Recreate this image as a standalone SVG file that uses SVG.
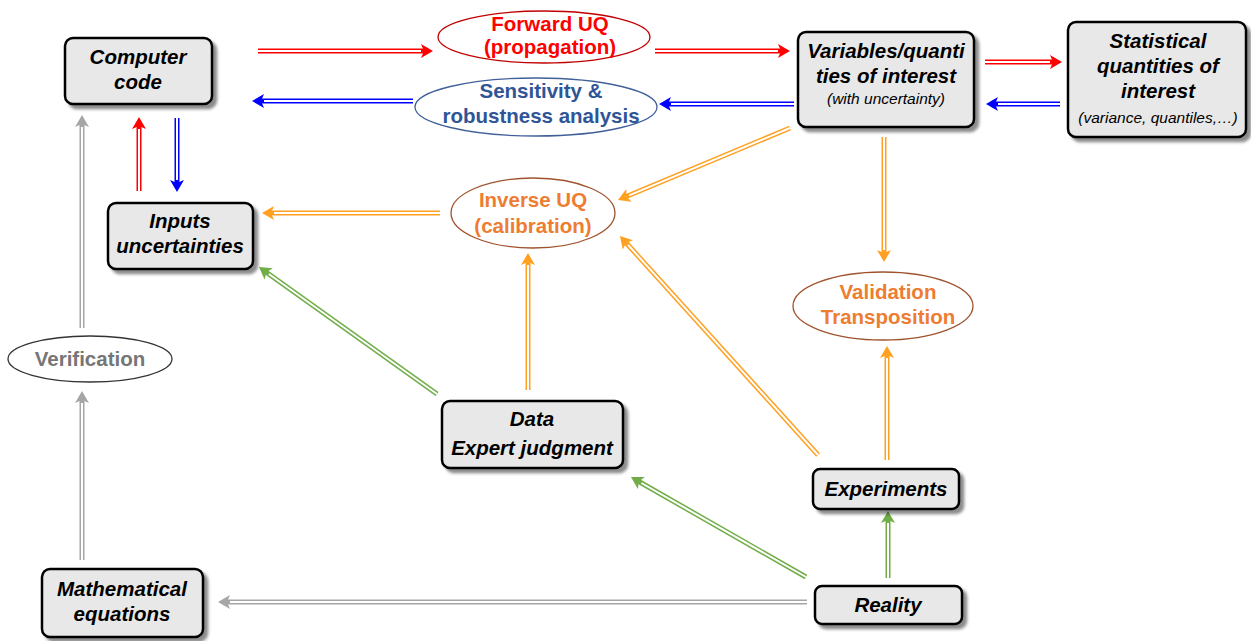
<svg xmlns="http://www.w3.org/2000/svg" width="1251" height="641" viewBox="0 0 1251 641">
<style>
.box{fill:#e8e8e8;stroke:#000;stroke-width:2.5}
.bt{font-family:"Liberation Sans",Arial,sans-serif;font-weight:bold;font-style:italic;font-size:20.5px;fill:#000;text-anchor:middle}
.st{font-family:"Liberation Sans",Arial,sans-serif;font-style:italic;font-size:15.5px;fill:#000;text-anchor:middle}
.et{font-family:"Liberation Sans",Arial,sans-serif;font-weight:bold;font-size:20.5px;text-anchor:middle}
.ell{fill:#fff;stroke-width:1.3}
.o{fill:none;stroke-width:5}
.i{fill:none;stroke:#fff;stroke-width:2}
.red{stroke:#ff0000}.blue{stroke:#0000ff}.org{stroke:#ffa020}.grn{stroke:#70ad47}.gry{stroke:#a6a6a6}
</style>
<defs>
<filter id="sh" x="-10%" y="-10%" width="130%" height="140%">
<feDropShadow dx="4" dy="4" stdDeviation="1.5" flood-color="#000" flood-opacity="0.45"/>
</filter>
<marker id="mr" viewBox="0 0 12 14" markerWidth="12" markerHeight="14" refX="3" refY="7" orient="auto" markerUnits="userSpaceOnUse"><path d="M0,0 L12,7 L0,14 L3,7 Z" fill="#ff0000"/></marker>
<marker id="mb" viewBox="0 0 12 14" markerWidth="12" markerHeight="14" refX="3" refY="7" orient="auto" markerUnits="userSpaceOnUse"><path d="M0,0 L12,7 L0,14 L3,7 Z" fill="#0000ff"/></marker>
<marker id="mo" viewBox="0 0 12 14" markerWidth="12" markerHeight="14" refX="3" refY="7" orient="auto" markerUnits="userSpaceOnUse"><path d="M0,0 L12,7 L0,14 L3,7 Z" fill="#ffa020"/></marker>
<marker id="mg" viewBox="0 0 12 14" markerWidth="12" markerHeight="14" refX="3" refY="7" orient="auto" markerUnits="userSpaceOnUse"><path d="M0,0 L12,7 L0,14 L3,7 Z" fill="#70ad47"/></marker>
<marker id="my" viewBox="0 0 12 14" markerWidth="12" markerHeight="14" refX="3" refY="7" orient="auto" markerUnits="userSpaceOnUse"><path d="M0,0 L12,7 L0,14 L3,7 Z" fill="#a6a6a6"/></marker>
</defs>
<rect width="1251" height="641" fill="#fff"/>

<g id="connectors">
<!-- red -->
<line class="o red" x1="258" y1="51" x2="424" y2="51" marker-end="url(#mr)"/><line class="i" x1="258" y1="51" x2="421" y2="51"/>
<line class="o red" x1="655" y1="51" x2="781" y2="51" marker-end="url(#mr)"/><line class="i" x1="655" y1="51" x2="778" y2="51"/>
<line class="o red" x1="985" y1="62" x2="1053" y2="62" marker-end="url(#mr)"/><line class="i" x1="985" y1="62" x2="1050" y2="62"/>
<line class="o red" x1="139" y1="191" x2="139" y2="126" marker-end="url(#mr)"/><line class="i" x1="139" y1="191" x2="139" y2="129"/>
<!-- blue -->
<line class="o blue" x1="413" y1="101" x2="261" y2="101" marker-end="url(#mb)"/><line class="i" x1="413" y1="101" x2="264" y2="101"/>
<line class="o blue" x1="794" y1="104" x2="668" y2="104" marker-end="url(#mb)"/><line class="i" x1="794" y1="104" x2="671" y2="104"/>
<line class="o blue" x1="1060" y1="104" x2="995" y2="104" marker-end="url(#mb)"/><line class="i" x1="1060" y1="104" x2="998" y2="104"/>
<line class="o blue" x1="177" y1="118" x2="177" y2="183" marker-end="url(#mb)"/><line class="i" x1="177" y1="118" x2="177" y2="180"/>
<!-- orange -->
<line class="o org" x1="440" y1="213" x2="271" y2="213" marker-end="url(#mo)"/><line class="i" x1="440" y1="213" x2="274" y2="213"/>
<line class="o org" x1="790" y1="128" x2="626.3" y2="196.5" marker-end="url(#mo)"/><line class="i" x1="790" y1="128" x2="629.1" y2="195.3"/>
<line class="o org" x1="884" y1="137" x2="884" y2="253" marker-end="url(#mo)"/><line class="i" x1="884" y1="137" x2="884" y2="250"/>
<line class="o org" x1="528" y1="390" x2="528" y2="262" marker-end="url(#mo)"/><line class="i" x1="528" y1="390" x2="528" y2="265"/>
<line class="o org" x1="818" y1="455" x2="626" y2="242.7" marker-end="url(#mo)"/><line class="i" x1="818" y1="455" x2="628" y2="244.9"/>
<line class="o org" x1="887" y1="460" x2="887" y2="355" marker-end="url(#mo)"/><line class="i" x1="887" y1="460" x2="887" y2="358"/>
<!-- green -->
<line class="o grn" x1="437" y1="394" x2="266.3" y2="272.2" marker-end="url(#mg)"/><line class="i" x1="437" y1="394" x2="268.8" y2="274"/>
<line class="o grn" x1="806" y1="577" x2="638.8" y2="481.5" marker-end="url(#mg)"/><line class="i" x1="806" y1="577" x2="641.4" y2="483"/>
<line class="o grn" x1="888" y1="578" x2="888" y2="520" marker-end="url(#mg)"/><line class="i" x1="888" y1="578" x2="888" y2="523"/>
<!-- gray -->
<line class="o gry" x1="807" y1="602" x2="227" y2="602" marker-end="url(#my)"/><line class="i" x1="807" y1="602" x2="230" y2="602"/>
<line class="o gry" x1="82" y1="560" x2="82" y2="400" marker-end="url(#my)"/><line class="i" x1="82" y1="560" x2="82" y2="403"/>
<line class="o gry" x1="82" y1="328" x2="82" y2="124" marker-end="url(#my)"/><line class="i" x1="82" y1="328" x2="82" y2="127"/>
</g>

<g id="computer-code">
<rect class="box" x="65" y="38" width="147" height="66" rx="8" filter="url(#sh)"/>
<text class="bt" x="138" y="64">Computer</text>
<text class="bt" x="138" y="89">code</text>
</g>
<g id="variables">
<rect class="box" x="798" y="32" width="176" height="95" rx="8" filter="url(#sh)"/>
<text class="bt" x="886" y="58">Variables/quanti</text>
<text class="bt" x="886" y="83">ties of interest</text>
<text class="st" x="886" y="104">(with uncertainty)</text>
</g>
<g id="statistical">
<rect class="box" x="1068" y="22" width="178" height="115" rx="8" filter="url(#sh)"/>
<text class="bt" x="1158" y="48">Statistical</text>
<text class="bt" x="1158" y="73">quantities of</text>
<text class="bt" x="1158" y="98">interest</text>
<text class="st" x="1158" y="123">(variance, quantiles,…)</text>
</g>
<g id="inputs">
<rect class="box" x="108" y="203" width="145" height="66" rx="8" filter="url(#sh)"/>
<text class="bt" x="180" y="228">Inputs</text>
<text class="bt" x="180" y="253">uncertainties</text>
</g>
<g id="data">
<rect class="box" x="442" y="401" width="181" height="67" rx="8" filter="url(#sh)"/>
<text class="bt" x="532" y="426">Data</text>
<text class="bt" x="532" y="455">Expert judgment</text>
</g>
<g id="experiments">
<rect class="box" x="813" y="469" width="146" height="40" rx="7" filter="url(#sh)"/>
<text class="bt" x="886" y="496">Experiments</text>
</g>
<g id="reality">
<rect class="box" x="815" y="586" width="147" height="38" rx="7" filter="url(#sh)"/>
<text class="bt" x="888" y="612">Reality</text>
</g>
<g id="mathematical">
<rect class="box" x="42" y="569" width="161" height="68" rx="8" filter="url(#sh)"/>
<text class="bt" x="122" y="596">Mathematical</text>
<text class="bt" x="122" y="621">equations</text>
</g>

<g id="forward-uq">
<ellipse class="ell" cx="544" cy="37" rx="106" ry="26" stroke="#c00000"/>
<text class="et" x="550" y="31" fill="#ff0000">Forward UQ</text>
<text class="et" x="550" y="54" fill="#ff0000">(propagation)</text>
</g>
<g id="sensitivity">
<ellipse class="ell" cx="536" cy="107" rx="121" ry="29" stroke="#41609a"/>
<text class="et" x="541" y="98" fill="#2f5597">Sensitivity &amp;</text>
<text class="et" x="541" y="123" fill="#2f5597">robustness analysis</text>
</g>
<g id="inverse-uq">
<ellipse class="ell" cx="533" cy="213" rx="82" ry="35" stroke="#a0522d"/>
<text class="et" x="533" y="207" fill="#ed7d31">Inverse UQ</text>
<text class="et" x="533" y="233" fill="#ed7d31">(calibration)</text>
</g>
<g id="validation">
<ellipse class="ell" cx="883" cy="306" rx="90" ry="34" stroke="#a0522d"/>
<text class="et" x="888" y="299" fill="#ed7d31">Validation</text>
<text class="et" x="888" y="324" fill="#ed7d31">Transposition</text>
</g>
<g id="verification">
<ellipse class="ell" cx="90" cy="359" rx="82" ry="23" stroke="#333"/>
<text class="et" x="90" y="366" fill="#767676">Verification</text>
</g>
</svg>
